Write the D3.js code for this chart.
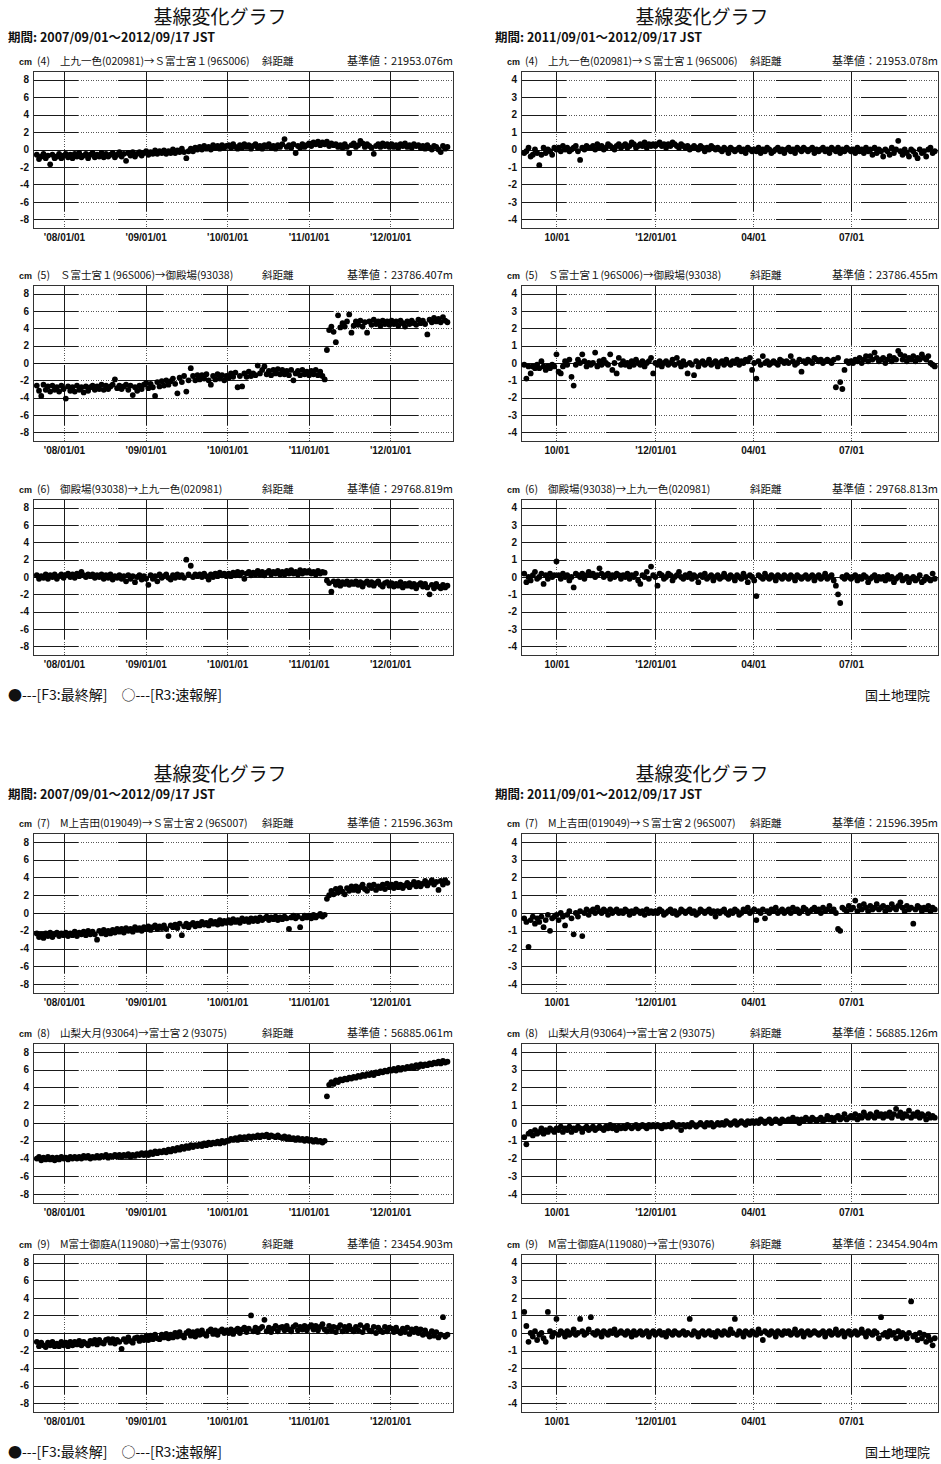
<!DOCTYPE html>
<html>
<head>
<meta charset="utf-8">
<script src="https://cdn.jsdelivr.net/npm/d3@7"></script>
<style>
  body { margin: 0; background: #fff; }
  svg text { font-family: "Liberation Sans Narrow", "Liberation Sans", "Noto Sans CJK JP", sans-serif; fill: #111; }
  svg .jp { font-family: "Noto Sans CJK JP", sans-serif; }
</style>
</head>
<body>
<svg id="chart" width="941" height="1464"></svg>
<script>
// ---- time axes ----
const longStart = "2007-09-01";   // 10-day samples of the 5-year series
const longStepDays = 10;
const shortStart = "2011-09-01";  // 2-day samples of the 1-year series
const shortStepDays = 2;
const longDomain = ["2007-08-15", "2012-10-09"];
const shortDomain = ["2011-08-29", "2012-09-20"];
const longTicks = ["2008-01-01", "2009-01-01", "2010-01-01", "2011-01-01", "2012-01-01"];
const longTickLabels = ["'08/01/01", "'09/01/01", "'10/01/01", "'11/01/01", "'12/01/01"];
const shortTicks = ["2011-10-01", "2012-01-01", "2012-04-01", "2012-07-01"];
const shortTickLabels = ["10/01", "'12/01/01", "04/01", "07/01"];
const longYTicks = [8, 6, 4, 2, 0, -2, -4, -6, -8];
const shortYTicks = [4, 3, 2, 1, 0, -1, -2, -3, -4];

// ---- baselines ----
const baselineNums = ["(4)", "(5)", "(6)", "(7)", "(8)", "(9)"];
const baselineNames = [
  "上九一色(020981)→Ｓ富士宮１(96S006)",
  "Ｓ富士宮１(96S006)→御殿場(93038)",
  "御殿場(93038)→上九一色(020981)",
  "M上吉田(019049)→Ｓ富士宮２(96S007)",
  "山梨大月(93064)→富士宮２(93075)",
  "M富士御庭A(119080)→富士(93076)"
];
const baseLong = ["21953.076", "23786.407", "29768.819", "21596.363", "56885.061", "23454.903"];
const baseShort = ["21953.078", "23786.455", "29768.813", "21596.395", "56885.126", "23454.904"];

// ---- slope distance change, cm (2007/09/01 - 2012/09/17) ----
const long4 = [-0.6,-1.1,-0.8,-0.5,-1.0,-0.7,-1.7,-0.6,-1.0,-0.8,-0.5,-1.0,-0.7,
-0.5,-0.9,-0.6,-1.0,-0.5,-0.8,-0.4,-0.9,-0.7,-0.5,-1.0,-0.6,
-0.4,-0.9,-0.6,-0.8,-0.4,-0.9,-0.5,-0.8,-0.6,-0.4,-0.9,-0.6,
-0.3,-0.8,-0.5,-1.3,-0.4,-0.7,-0.3,-0.8,-0.5,-0.3,-0.7,-0.4,
-0.2,-0.6,-0.3,-0.5,-0.1,-0.5,-0.2,-0.4,-0.1,-0.5,-0.2,-0.4,
0.0,-0.4,-0.1,-0.3,0.1,-0.3,-1.0,-0.2,0.1,-0.2,0.2,0.0,
0.3,0.0,0.4,0.1,0.3,0.0,0.5,0.2,0.4,0.1,0.5,0.2,0.4,
0.5,0.2,0.6,0.3,0.1,0.5,0.2,0.6,0.3,0.5,0.1,0.4,
0.6,0.2,0.4,0.1,0.5,0.3,0.6,0.2,0.4,0.1,0.5,0.3,
0.6,1.2,0.3,0.5,0.2,0.6,-0.4,0.4,0.2,0.6,0.3,0.5,
0.7,0.4,0.8,0.6,0.9,0.5,0.8,0.6,0.9,0.4,0.7,0.5,
0.6,0.3,0.5,0.2,0.6,0.3,-0.4,0.5,0.7,0.3,0.5,1.0,
0.7,0.3,0.6,0.4,0.2,-0.5,0.4,0.6,0.3,0.7,0.4,0.6,0.3,
0.6,0.3,0.5,0.2,0.6,0.4,0.7,0.3,0.5,0.2,0.6,0.4,
0.5,0.2,0.4,0.1,0.5,0.2,0.0,0.4,0.3,0.0,-0.3,0.4,0.1,0.3];

const long5 = [-2.6,-3.2,-3.8,-2.5,-3.1,-2.7,-3.3,-2.6,-3.1,-2.8,-3.3,-2.6,-3.0,
-4.1,-2.7,-3.2,-2.8,-3.3,-2.6,-3.1,-2.8,-3.4,-2.7,-3.2,-2.8,
-2.6,-3.1,-2.7,-3.0,-2.5,-3.1,-2.6,-3.0,-2.7,-2.5,-1.9,-2.9,
-2.6,-3.0,-2.7,-2.5,-3.1,-2.6,-3.7,-2.8,-3.2,-2.6,-3.0,-2.5,
-2.3,-2.9,-2.4,-2.8,-3.8,-2.2,-2.7,-2.1,-2.6,-2.0,-2.5,-2.1,
-1.8,-2.4,-3.5,-1.7,-2.2,-1.5,-3.3,-2.0,-0.6,-1.5,-2.0,-1.4,
-1.9,-1.4,-1.8,-1.3,-2.0,-2.5,-1.5,-1.9,-1.3,-1.8,-1.4,-2.0,-1.5,
-1.7,-1.2,-1.6,-1.1,-2.8,-1.5,-2.7,-1.2,-1.6,-1.0,-1.5,-1.2,
-1.4,-0.3,-1.2,-0.8,-0.4,-1.3,-0.9,-1.4,-0.8,-1.2,-0.7,-1.3,
-0.8,-1.3,-0.9,-1.4,-0.8,-2.0,-1.2,-0.9,-1.4,-0.8,-1.3,-1.0,
-1.4,-0.9,-1.3,-0.8,-1.4,-1.0,-1.5,-1.9,
1.5,3.8,4.2,3.6,2.4,5.5,4.1,4.6,4.2,4.8,5.6,3.5,
4.3,4.8,4.4,4.9,4.2,4.7,3.5,4.8,4.4,5.0,4.5,4.8,4.3,4.9,4.5,4.8,4.4,
4.9,4.5,4.8,4.3,4.9,4.6,4.2,4.8,4.5,4.9,4.6,4.4,
5.0,4.6,4.9,4.5,3.3,5.0,4.7,5.2,4.8,5.1,4.7,5.3,4.9,4.7];

const long6 = [0.2,-0.2,0.1,-0.1,0.3,-0.2,0.2,0.0,0.3,-0.2,0.1,0.3,-0.1,
0.2,0.4,0.0,0.3,-0.1,0.4,0.1,0.6,0.2,0.0,0.3,0.1,
0.3,-0.1,0.2,0.0,0.3,-0.2,0.2,-0.1,0.3,-0.3,0.1,-0.1,
0.2,-0.2,0.1,-0.5,0.2,-0.2,0.1,-0.6,0.0,0.2,-0.3,0.1,
-0.2,-0.9,0.2,-0.2,0.1,-0.5,0.3,-0.1,0.1,0.3,-0.1,-0.3,
0.2,-0.1,0.3,0.0,0.2,-0.1,2.0,0.3,1.3,0.0,0.3,0.1,
0.3,0.0,0.4,0.1,-0.3,0.3,0.0,0.4,0.1,0.5,0.2,0.4,0.1,
0.4,0.1,0.5,0.2,0.6,0.2,0.5,-0.2,0.4,0.6,0.2,0.5,
0.3,0.7,0.3,0.6,0.2,0.5,0.7,0.3,0.6,0.4,0.7,0.3,
0.6,0.3,0.7,0.4,0.8,0.4,0.6,0.3,0.8,0.4,0.7,0.5,
0.7,0.4,0.6,0.3,0.7,0.4,0.6,0.5,
-0.4,-0.7,-1.7,-0.5,-0.9,-0.5,-1.0,-0.6,-0.8,-0.5,-0.9,-0.6,
-0.8,-0.5,-0.9,-0.6,-1.1,-0.7,-0.5,-0.9,-0.6,-1.0,-0.7,-0.5,-0.9,-1.1,-0.7,-0.6,-1.0,
-0.7,-1.1,-0.8,-1.0,-0.6,-1.2,-0.8,-1.0,-0.7,-1.1,-0.8,-1.3,
-0.9,-0.7,-1.1,-0.8,-1.2,-2.0,-0.9,-1.3,-0.8,-1.1,-1.3,-0.9,-1.2,-1.0];

const long7 = [-2.3,-2.7,-2.4,-2.8,-2.3,-2.6,-2.2,-2.7,-2.4,-2.2,-2.6,-2.3,-2.5,
-2.2,-2.6,-2.3,-2.5,-2.1,-2.6,-2.2,-2.4,-2.1,-2.5,-2.0,-2.4,
-2.1,-2.4,-3.0,-2.0,-2.3,-1.9,-2.4,-2.0,-2.3,-1.9,-2.2,-1.8,
-2.1,-1.8,-2.2,-1.7,-2.0,-1.8,-2.1,-1.6,-1.9,-1.7,-2.0,-1.6,
-1.8,-1.5,-1.9,-1.6,-1.4,-1.8,-1.5,-1.7,-1.4,-1.8,-2.6,-1.4,
-1.6,-1.3,-1.7,-1.2,-2.5,-1.5,-1.2,-1.6,-1.3,-1.1,-1.5,-1.2,
-1.4,-1.0,-1.3,-1.1,-1.4,-0.9,-1.2,-1.0,-1.3,-0.8,-1.2,-0.9,-1.1,
-0.8,-1.1,-0.7,-1.0,-0.8,-1.1,-0.6,-0.9,-0.7,-1.0,-0.6,-0.9,
-0.6,-0.9,-0.5,-0.8,-0.6,-0.4,-0.8,-0.5,-0.7,-0.4,-0.8,-0.5,
-0.7,-0.4,-0.6,-1.8,-0.5,-0.3,-0.6,-0.4,-1.6,-0.6,-0.3,-0.5,
-0.3,-0.6,-0.2,-0.5,-0.3,-0.1,-0.4,-0.2,
1.6,2.0,2.5,2.1,2.7,2.3,2.8,2.4,2.1,2.8,2.5,3.0,
2.6,3.0,2.5,2.9,3.2,2.7,2.5,3.1,2.8,3.2,2.6,3.0,2.8,3.2,2.7,3.3,2.9,
3.2,2.8,3.3,2.9,3.2,2.8,3.1,3.4,2.9,3.2,3.5,3.0,
3.4,3.0,3.3,3.6,3.1,3.4,3.7,3.2,3.5,2.6,3.6,3.2,3.7,3.4];

const long8 = [-4.0,-3.8,-4.2,-3.9,-4.1,-3.8,-4.1,-3.9,-4.2,-3.9,-4.1,-3.8,-4.0,
-3.9,-4.1,-3.8,-4.0,-3.8,-4.0,-3.8,-4.0,-3.7,-3.9,-3.7,-4.0,
-3.8,-3.9,-3.7,-3.9,-3.7,-3.8,-3.6,-3.9,-3.7,-3.8,-3.6,-3.8,
-3.6,-3.8,-3.6,-3.7,-3.5,-3.8,-3.6,-3.7,-3.5,-3.6,-3.4,-3.6,
-3.4,-3.6,-3.3,-3.5,-3.2,-3.4,-3.2,-3.3,-3.1,-3.3,-3.0,-3.2,
-2.9,-3.1,-2.8,-3.0,-2.7,-2.9,-2.6,-2.8,-2.5,-2.7,-2.5,-2.6,
-2.4,-2.6,-2.3,-2.5,-2.2,-2.4,-2.2,-2.3,-2.1,-2.3,-2.0,-2.2,-2.0,
-2.0,-1.8,-1.9,-1.7,-1.9,-1.6,-1.8,-1.6,-1.7,-1.5,-1.7,-1.5,
-1.6,-1.4,-1.6,-1.4,-1.5,-1.3,-1.6,-1.4,-1.5,-1.6,-1.4,-1.6,
-1.7,-1.5,-1.8,-1.6,-1.8,-1.7,-1.9,-1.7,-1.9,-1.8,-2.0,-1.8,
-2.0,-1.9,-2.1,-1.9,-2.1,-2.0,-2.2,-2.0,
3.0,4.3,4.6,4.4,4.8,4.6,4.9,4.8,5.0,4.9,5.1,5.0,
5.2,5.1,5.3,5.2,5.4,5.3,5.5,5.4,5.6,5.4,5.7,5.6,5.8,5.7,5.9,5.8,6.0,
5.9,6.1,5.9,6.2,6.0,6.2,6.1,6.3,6.2,6.4,6.2,6.5,
6.3,6.6,6.4,6.6,6.5,6.7,6.6,6.8,6.7,6.9,6.7,7.0,6.8,6.9];

const long9 = [-1.0,-1.5,-1.1,-1.4,-1.6,-1.1,-1.4,-1.0,-1.5,-1.2,-1.5,-1.0,-1.4,
-1.1,-1.5,-1.0,-1.4,-1.0,-1.3,-0.9,-1.4,-1.0,-1.2,-1.4,-0.9,
-1.2,-0.8,-1.3,-0.8,-1.1,-1.2,-0.8,-0.7,-1.1,-0.7,-1.2,-0.8,
-1.0,-1.8,-0.7,-1.0,-0.5,-0.9,-1.1,-0.6,-0.5,-0.9,-0.5,-0.8,
-0.4,-0.8,-0.3,-0.7,-0.2,-0.6,-0.7,-0.2,-0.5,-0.1,-0.6,-0.2,
-0.5,0.0,-0.4,0.1,-0.3,-0.5,0.0,0.2,-0.3,0.1,-0.4,0.2,
-0.2,0.3,-0.1,-0.3,0.2,0.4,-0.1,0.3,-0.2,0.2,0.4,0.0,0.3,
0.0,0.4,-0.1,0.3,0.5,0.0,0.4,0.6,0.1,0.5,2.0,0.2,
0.6,0.1,0.5,0.7,1.5,0.2,0.6,0.1,0.5,0.8,0.2,0.6,
0.7,0.3,0.8,0.4,0.2,0.7,0.9,0.3,0.7,0.4,0.8,0.3,
0.7,0.9,0.4,0.8,0.3,0.7,1.0,0.4,
0.2,0.8,0.3,0.7,0.1,0.6,0.9,0.2,0.7,0.3,0.8,0.4,
0.2,0.7,0.3,0.9,0.1,0.6,0.8,0.3,0.2,0.7,0.0,0.6,0.3,0.1,0.7,0.2,0.6,
0.5,0.1,0.6,0.2,0.0,0.5,0.1,0.6,-0.1,0.4,0.1,0.5,
0.0,0.4,-0.2,0.3,-0.1,-0.4,0.2,-0.3,0.1,-0.5,-0.2,1.8,-0.4,-0.2];

// ---- slope distance change, cm (2011/09/01 - 2012/09/17) ----
const short4 = [-0.2,-0.1,0.1,-0.4,-0.3,0.0,-0.2,-0.9,-0.3,0.1,-0.2,0.0,-0.1,-0.3,0.1,
0.0,0.1,-0.1,0.2,0.0,0.1,-0.1,0.0,0.1,0.2,-0.1,-0.6,0.1,0.0,0.2,0.1,
0.1,0.2,0.0,0.3,0.1,0.2,0.0,0.1,0.3,0.2,0.1,0.0,0.2,0.3,0.1,
0.2,0.3,0.1,0.2,0.4,0.3,0.1,0.2,0.3,0.2,0.4,0.1,0.3,0.2,0.3,
0.2,0.3,0.4,0.2,0.3,0.1,0.3,0.2,0.4,0.3,0.2,0.1,0.3,0.2,0.1,
0.2,0.0,0.1,0.2,0.1,0.0,0.2,0.1,-0.1,0.1,0.0,0.2,0.1,0.0,0.1,
0.0,-0.1,0.1,0.0,-0.2,0.1,0.0,-0.1,0.0,0.1,-0.1,0.0,-0.2,0.1,0.0,-0.1,
0.0,-0.1,0.1,-0.2,0.0,-0.1,0.1,0.0,-0.2,-0.1,0.0,0.1,-0.1,0.0,-0.2,
0.0,0.1,-0.1,0.0,-0.2,0.1,0.0,-0.1,0.1,0.0,-0.1,0.0,0.1,-0.2,0.0,
-0.1,0.0,0.1,-0.1,0.0,-0.2,0.1,0.0,-0.1,0.1,-0.2,0.0,-0.1,0.1,0.0,
-0.1,0.0,-0.2,0.1,-0.1,0.0,-0.2,0.1,-0.1,0.0,-0.3,0.1,-0.2,0.0,-0.1,
-0.4,0.0,-0.1,-0.3,0.1,-0.2,0.0,0.5,-0.1,-0.3,0.0,-0.2,-0.4,0.0,-0.1,-0.3,-0.5,0.0,-0.2,-0.1,-0.4,0.0,0.1,-0.2,-0.1];

const short5 = [-0.1,-0.9,-0.2,-0.6,-0.2,-0.3,-0.1,-0.3,0.1,-0.2,-0.4,-0.2,-0.3,-0.1,-0.2,
0.5,-0.5,-0.6,-0.2,0.1,-0.1,0.2,-0.8,-1.3,-0.1,0.2,0.0,0.5,0.1,-0.2,0.0,
-0.1,0.0,0.6,-0.2,0.1,-0.1,0.2,0.0,-0.1,0.5,-0.4,0.0,-0.6,0.3,-0.1,
0.1,-0.1,0.0,-0.2,0.1,-0.1,0.2,0.0,-0.1,0.1,-0.2,0.0,0.1,0.3,-0.6,
0.0,-0.1,0.1,-0.2,0.0,0.1,-0.1,0.0,0.2,-0.1,0.3,0.0,-0.2,0.1,-0.1,
-0.6,0.0,-0.1,-0.7,0.1,-0.2,0.0,0.1,-0.1,0.0,0.2,-0.1,0.0,0.1,-0.2,
0.0,0.1,-0.1,0.2,0.0,-0.1,0.1,0.0,0.2,-0.1,0.1,0.0,0.2,0.1,0.3,-0.4,
0.0,-0.9,0.1,-0.1,0.4,0.0,0.1,-0.1,0.0,0.1,0.0,-0.1,0.2,0.1,0.0,
0.1,0.0,0.4,0.1,-0.1,0.0,0.2,-0.5,0.1,0.0,0.2,0.1,0.0,0.3,0.2,
0.1,0.2,0.0,0.1,0.2,0.1,0.0,0.2,-1.4,0.3,-1.1,-1.5,-0.4,0.1,0.0,
0.1,0.0,0.2,0.1,0.3,0.0,0.2,0.4,0.1,0.4,0.2,0.6,0.3,0.1,0.2,
0.3,0.0,0.2,0.4,0.1,0.3,0.2,0.7,0.5,0.2,0.4,0.1,0.3,0.2,0.4,0.1,0.3,0.2,0.5,0.3,0.2,0.4,0.0,-0.1,-0.2];

const short6 = [0.2,-0.3,0.0,-0.2,0.1,0.3,-0.1,0.0,0.2,-0.4,0.1,-0.1,0.2,0.0,0.1,
0.9,0.1,-0.1,0.2,0.0,0.1,-0.2,0.0,-0.6,0.2,0.1,0.0,0.2,-0.1,0.1,0.3,
0.1,0.2,0.0,0.1,0.5,0.2,0.0,0.1,0.2,-0.1,0.1,0.0,0.2,0.1,-0.1,
0.1,0.0,0.2,-0.1,0.1,0.0,0.2,-0.2,-0.4,0.1,0.0,0.3,-0.1,0.6,0.1,
0.0,-0.5,0.2,0.1,-0.1,0.0,0.2,0.1,-0.2,0.0,0.1,0.3,0.0,-0.1,0.1,
0.0,0.2,-0.1,0.1,0.0,-0.3,0.1,0.0,0.2,-0.1,0.0,0.1,-0.2,0.0,0.1,
-0.1,0.0,0.2,0.0,-0.1,0.1,0.0,-0.2,0.1,0.0,-0.1,0.2,0.0,-0.3,0.1,0.0,
-0.2,-1.1,0.1,0.0,-0.1,0.2,0.0,-0.1,0.1,0.0,-0.2,0.1,0.0,-0.1,0.1,
0.0,-0.1,0.1,0.0,-0.2,0.1,0.0,-0.1,0.0,0.1,-0.1,0.0,0.1,-0.2,0.0,
0.1,-0.1,0.0,0.2,-0.1,0.0,0.1,-0.2,-0.5,-1.0,-1.5,0.0,-0.1,0.1,0.0,
-0.1,0.0,0.1,-0.2,0.0,-0.1,0.1,0.0,-0.3,-0.1,0.0,0.1,-0.2,0.0,-0.1,
0.0,-0.2,0.1,-0.1,0.0,-0.3,-0.1,0.0,0.1,-0.2,-0.1,0.0,-0.3,-0.1,0.0,-0.2,-0.1,0.1,-0.3,-0.2,0.0,-0.1,-0.2,0.2,-0.1];

const short7 = [-0.3,-0.5,-1.9,-0.4,-0.2,-0.6,-0.3,-0.5,-0.2,-0.8,-0.4,-0.1,-1.0,-0.3,-0.2,
-0.1,-0.4,0.0,-0.2,-0.7,-0.1,0.1,-0.3,-1.2,0.0,-0.2,0.1,-1.3,0.0,0.2,-0.1,
0.1,0.2,0.0,0.3,0.1,0.0,0.2,0.1,-0.1,0.2,0.0,0.1,0.2,0.0,0.1,
0.0,0.2,0.1,-0.1,0.1,0.0,0.2,0.1,0.0,0.1,-0.1,0.2,0.0,0.1,0.0,
0.1,0.0,0.2,0.1,-0.1,0.0,0.1,0.2,0.0,0.1,-0.1,0.0,0.2,0.1,0.0,
0.1,0.2,0.0,0.1,-0.1,0.0,0.2,0.1,0.0,0.1,0.2,0.0,0.1,-0.2,0.1,
0.0,0.1,0.2,0.0,-0.1,0.1,0.0,0.2,0.1,-0.1,0.0,0.2,0.1,0.3,0.0,0.1,
0.2,-0.4,0.1,0.0,0.2,-0.3,0.1,0.0,0.2,0.1,0.3,0.0,0.1,0.2,0.0,
0.1,0.2,0.0,0.3,0.1,0.2,0.0,0.1,0.3,0.2,0.0,0.1,0.2,0.3,0.1,
0.2,0.0,0.3,0.1,0.2,0.4,0.1,0.2,0.0,-0.9,-1.0,0.3,0.2,0.1,0.4,
0.2,0.3,0.7,0.1,0.4,0.2,0.5,0.3,0.1,0.4,0.2,0.3,0.5,0.2,0.3,
0.4,0.1,0.3,0.2,0.5,0.3,0.2,0.4,0.6,0.3,0.1,0.4,0.2,0.3,-0.6,0.2,0.4,0.3,0.1,0.3,0.2,0.4,0.1,0.3,0.2];

const short8 = [-0.8,-1.2,-0.6,-0.5,-0.7,-0.4,-0.6,-0.5,-0.3,-0.6,-0.4,-0.5,-0.3,-0.4,-0.5,
-0.3,-0.4,-0.2,-0.5,-0.3,-0.4,-0.2,-0.5,-0.3,-0.4,-0.2,-0.3,-0.5,-0.3,-0.2,-0.4,
-0.3,-0.2,-0.4,-0.3,-0.2,-0.3,-0.4,-0.2,-0.3,-0.1,-0.3,-0.2,-0.4,-0.2,-0.3,
-0.2,-0.3,-0.1,-0.2,-0.3,-0.2,-0.1,-0.3,-0.2,-0.1,-0.2,-0.3,-0.1,-0.2,-0.1,
-0.2,-0.1,-0.2,-0.3,-0.1,-0.2,-0.1,-0.2,0.0,-0.1,-0.2,-0.1,-0.4,-0.1,-0.2,
-0.1,-0.2,0.0,-0.1,-0.2,-0.1,0.0,-0.1,-0.2,0.0,-0.1,0.0,-0.2,-0.1,0.0,
-0.1,0.0,-0.1,0.1,0.0,-0.1,0.0,0.1,-0.1,0.0,0.1,0.0,-0.1,0.1,0.0,0.1,
0.0,0.1,0.0,0.2,0.1,0.0,0.1,0.2,0.0,0.1,0.2,0.1,0.0,0.2,0.1,
0.1,0.2,0.1,0.3,0.1,0.2,0.0,0.2,0.1,0.3,0.2,0.1,0.3,0.2,0.1,
0.2,0.3,0.1,0.2,0.4,0.2,0.3,0.1,0.3,0.4,0.2,0.3,0.5,0.2,0.3,
0.4,0.3,0.5,0.2,0.4,0.3,0.6,0.4,0.3,0.5,0.4,0.3,0.6,0.4,0.5,
0.3,0.5,0.4,0.6,0.3,0.5,0.8,0.4,0.6,0.3,0.5,0.4,0.7,0.3,0.5,0.4,0.6,0.3,0.5,0.4,0.2,0.5,0.3,0.4,0.3];

const short9 = [1.2,0.4,-0.5,0.0,-0.2,0.1,-0.4,-0.1,0.0,-0.3,-0.5,1.2,0.1,-0.2,0.0,
0.8,-0.1,0.1,0.0,-0.2,0.1,-0.1,0.0,0.2,-0.1,0.0,0.8,0.1,-0.1,0.0,0.2,
0.9,0.0,-0.1,0.1,0.0,-0.2,0.1,0.0,-0.1,0.1,0.0,0.2,-0.1,0.0,0.1,
0.0,-0.1,0.1,0.0,-0.2,0.1,-0.1,0.0,0.1,-0.1,0.0,0.1,-0.2,0.0,0.1,
-0.1,0.0,0.1,-0.1,0.0,-0.2,0.1,0.0,-0.1,0.1,0.0,-0.1,0.0,0.1,-0.1,
0.0,0.8,-0.1,0.1,0.0,-0.2,0.0,0.1,-0.1,0.0,0.1,-0.1,0.0,-0.2,0.1,
0.0,-0.1,0.1,0.0,-0.1,0.2,0.0,0.8,-0.1,0.1,0.0,-0.2,0.1,0.0,-0.1,0.1,
0.0,-0.1,0.2,0.0,-0.4,0.1,0.0,-0.1,0.1,0.0,-0.2,0.1,0.0,-0.1,0.1,
0.0,0.1,-0.1,0.0,0.2,-0.1,0.0,0.1,-0.2,0.0,0.1,-0.1,0.0,0.1,0.0,
-0.1,0.0,0.1,-0.2,0.0,0.1,-0.1,0.0,0.2,-0.1,0.0,0.1,-0.2,0.0,0.1,
-0.1,0.0,0.1,-0.1,0.0,0.2,0.0,-0.2,0.1,0.0,-0.1,0.1,0.0,-0.3,0.9,
-0.1,0.0,-0.2,0.1,-0.1,0.0,-0.3,0.1,-0.2,0.0,-0.1,-0.3,0.0,1.8,-0.2,-0.1,-0.4,0.0,-0.3,-0.1,-0.5,-0.2,-0.4,-0.7,-0.3];

const longSeries = [long4, long5, long6, long7, long8, long9];
const shortSeries = [short4, short5, short6, short7, short8, short9];

// ---- page layout ----
const svg = d3.select("#chart");
const parse = d3.utcParse("%Y-%m-%d");
const blockTops = [0, 757];
const rowTops = [71, 285, 499, 833, 1043, 1254];
const rowHeights = [157, 156, 156, 160, 160, 158];
const columns = [
  { x0: 33, x1: 453, yDomain: [-9, 9], yTicks: longYTicks, xDomain: longDomain, xTicks: longTicks,
    xLabels: longTickLabels, series: longSeries, start: longStart, step: longStepDays, base: baseLong,
    headX: 220, periodX: 8, period: "期間: 2007/09/01～2012/09/17 JST" },
  { x0: 521, x1: 938, yDomain: [-4.5, 4.5], yTicks: shortYTicks, xDomain: shortDomain, xTicks: shortTicks,
    xLabels: shortTickLabels, series: shortSeries, start: shortStart, step: shortStepDays, base: baseShort,
    headX: 702, periodX: 495, period: "期間: 2011/09/01～2012/09/17 JST" }
];

// headers and footers for both blocks
blockTops.forEach((bt, b) => {
  columns.forEach(col => {
    svg.append("text").attr("class", "jp").attr("x", col.headX).attr("y", bt + 24)
      .attr("text-anchor", "middle").attr("font-size", 19).text("基線変化グラフ");
    svg.append("text").attr("class", "jp").attr("x", col.periodX).attr("y", bt + 42)
      .attr("font-size", 12.5).attr("font-weight", "bold").text(col.period);
  });
  const fy = rowTops[b * 3 + 2] + rowHeights[b * 3 + 2] + 45;
  svg.append("text").attr("class", "jp").attr("x", 8).attr("y", fy)
    .attr("font-size", 14).text("●---[F3:最終解]　○---[R3:速報解]");
  svg.append("text").attr("class", "jp").attr("x", 930).attr("y", fy)
    .attr("text-anchor", "end").attr("font-size", 13).text("国土地理院");
});

function drawPanel(col, row) {
  const top = rowTops[row], h = rowHeights[row];
  const g = svg.append("g");
  const x = d3.scaleUtc().domain(col.xDomain.map(parse)).range([col.x0, col.x1]);
  const y = d3.scaleLinear().domain(col.yDomain).range([top + h, top]);
  const start = parse(col.start);

  // panel caption
  const cy = top - 6;
  g.append("text").attr("x", col.x0 - 14).attr("y", cy).attr("font-size", 9).attr("font-weight", "bold").text("cm");
  g.append("text").attr("class", "jp").attr("x", col.x0 + 4).attr("y", cy).attr("font-size", 10.5).text(baselineNums[row]);
  g.append("text").attr("class", "jp").attr("x", col.x0 + 27).attr("y", cy).attr("font-size", 10.5).text(baselineNames[row]);
  g.append("text").attr("class", "jp").attr("x", col.x0 + 229).attr("y", cy).attr("font-size", 10.5).text("斜距離");
  g.append("text").attr("class", "jp").attr("x", col.x1).attr("y", cy).attr("text-anchor", "end")
    .attr("font-size", 11).text("基準値：" + col.base[row] + "m");

  // grid: dotted underlay with long solid dashes on top
  const grid = g.append("g").attr("shape-rendering", "crispEdges");
  const hLines = col.yTicks.filter(v => v !== 0);
  [["1,1.5", "#555"], ["45,40", "#1a1a1a"]].forEach(([dash, color]) => {
    grid.selectAll(null).data(hLines).join("line")
      .attr("x1", col.x0).attr("x2", col.x1)
      .attr("y1", d => Math.round(y(d)) + 0.5).attr("y2", d => Math.round(y(d)) + 0.5)
      .attr("stroke", color).attr("stroke-dasharray", dash);
  });
  [["1,1.5", "#555"], ["60,20", "#1a1a1a"]].forEach(([dash, color]) => {
    grid.selectAll(null).data(col.xTicks.map(parse)).join("line")
      .attr("x1", d => Math.round(x(d)) + 0.5).attr("x2", d => Math.round(x(d)) + 0.5)
      .attr("y1", top).attr("y2", top + h)
      .attr("stroke", color).attr("stroke-dasharray", dash);
  });
  grid.append("line").attr("x1", col.x0).attr("x2", col.x1)
    .attr("y1", Math.round(y(0)) + 0.5).attr("y2", Math.round(y(0)) + 0.5).attr("stroke", "#111");
  grid.append("rect").attr("x", col.x0 + 0.5).attr("y", top + 0.5)
    .attr("width", col.x1 - col.x0).attr("height", h)
    .attr("fill", "none").attr("stroke", "#333");

  // axes (labels only)
  const ya = g.append("g").attr("transform", `translate(${col.x0},0)`)
    .call(d3.axisLeft(y).tickValues(col.yTicks).tickSize(0).tickPadding(4).tickFormat(d => String(d)));
  ya.select(".domain").remove();
  ya.selectAll("text").attr("font-size", 10).attr("font-weight", "bold").attr("font-family", null);
  const xa = g.append("g").attr("transform", `translate(0,${top + h})`)
    .call(d3.axisBottom(x).tickValues(col.xTicks.map(parse)).tickSize(0).tickPadding(6)
      .tickFormat((d, i) => col.xLabels[i]));
  xa.select(".domain").remove();
  xa.selectAll("text").attr("font-size", 10).attr("font-weight", "bold").attr("font-family", null);

  // observations (F3 final solutions)
  const pts = col.series[row].map((v, i) => ({ t: d3.utcDay.offset(start, i * col.step), v }));
  g.append("g").selectAll("circle").data(pts).join("circle")
    .attr("cx", d => x(d.t)).attr("cy", d => y(d.v)).attr("r", 2.9).attr("fill", "#000");
}

columns.forEach(col => { for (let r = 0; r < 6; r++) drawPanel(col, r); });
</script>
</body>
</html>
